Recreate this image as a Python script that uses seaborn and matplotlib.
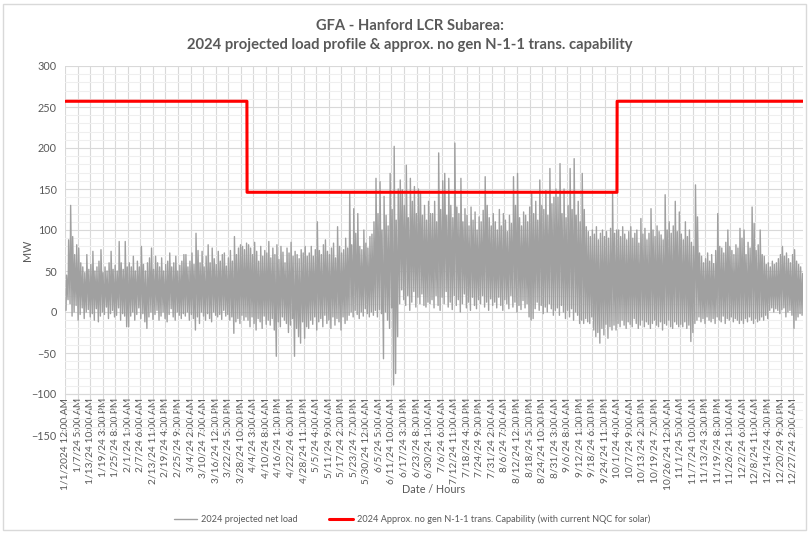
import numpy as np
import pandas as pd
import matplotlib
matplotlib.use('Agg')
from matplotlib import pyplot as plt
from matplotlib.patches import Rectangle
from matplotlib.ticker import MultipleLocator, FixedLocator
import seaborn as sns

# daily peak / trough of the projected net load (MW), one row per month
daily_high = [
    45, 88, 130, 92, 70, 82, 78, 60, 55, 48, 70, 52, 58, 74, 50, 55, 62, 76, 48, 55, 50, 60, 74, 52, 57, 50, 86, 60, 52, 86, 55,
    60, 55, 68, 50, 62, 55, 80, 58, 50, 60, 66, 78, 52, 68, 60, 55, 66, 50, 58, 62, 72, 55, 60, 68, 50, 57, 62, 70,
    70, 55, 62, 72, 58, 96, 75, 60, 74, 55, 68, 82, 60, 78, 65, 58, 74, 62, 70, 72, 56, 66, 75, 62, 92, 70, 78, 82, 80, 76, 84,
    82, 78, 70, 85, 74, 62, 80, 68, 75, 72, 86, 66, 78, 70, 82, 64, 80, 73, 60, 78, 72, 85, 68, 74, 70, 65, 76, 72, 80, 68,
    72, 80, 68, 76, 110, 75, 70, 82, 88, 74, 70, 78, 84, 66, 104, 80, 72, 76, 90, 78, 145, 82, 126, 96, 120, 80, 76, 100, 84, 78, 92,
    95, 110, 163, 120, 159, 100, 141, 118, 105, 169, 125, 202, 112, 150, 161, 149, 130, 179, 115, 163, 135, 153, 120, 150, 147, 118, 130, 112, 135, 120,
    120, 135, 110, 194, 125, 160, 169, 118, 163, 130, 115, 206, 128, 120, 163, 110, 126, 118, 105, 128, 112, 122, 100, 116, 110, 124, 165, 130, 115, 105, 120,
    110, 100, 125, 105, 120, 112, 98, 118, 108, 165, 130, 169, 115, 105, 122, 118, 110, 128, 145, 120, 135, 112, 161, 130, 125, 148, 118, 175, 132, 140, 150,
    140, 181, 120, 150, 115, 130, 175, 125, 187, 118, 135, 110, 169, 125, 104, 98, 92, 100, 95, 104, 88, 96, 100, 92, 98, 90, 102, 145, 96, 100,
    100, 92, 104, 95, 88, 98, 104, 90, 96, 100, 84, 114, 95, 102, 88, 96, 126, 100, 92, 105, 98, 94, 88, 143, 100, 110, 96, 105, 135, 98, 122,
    95, 88, 110, 92, 100, 85, 80, 155, 116, 72, 68, 60, 65, 72, 62, 70, 59, 75, 120, 80, 78, 72, 85, 100, 80, 75, 70, 82, 78, 102,
    90, 100, 70, 85, 78, 128, 108, 75, 82, 100, 70, 68, 58, 60, 55, 62, 58, 60, 65, 70, 80, 68, 72, 65, 60, 70, 76, 62, 58, 55, 47,
]
daily_low = [
    2, 15, 10, -5, 0, 8, -10, -3, 5, -8, 0, 3, -6, -2, -10, 4, -12, -5, 0, -3, 6, -8, -2, 2, -6, -4, 5, -10, -2, -5, -18,
    -18, -5, 0, -10, -3, 5, -8, -2, -12, -20, -6, 0, -9, -3, 2, -10, -5, 0, -8, -12, -3, 4, -6, -10, 0, -4, -8, -2,
    -5, 0, -10, -3, -8, -22, -6, -14, 0, -5, -10, -2, -8, -12, 0, -4, -6, -3, -9, 2, -5, -3, -10, -6, -26, -12, -8, -14, -4, -10, -6,
    -10, -18, -6, -14, -22, -8, -12, -20, -5, -15, -10, -16, -8, -22, -54, -12, -18, -6, -10, -14, -25, -16, -8, -54, -20, -30, -38, -12, -32, -18,
    -20, -10, -15, -6, -22, -12, -8, -18, -4, -14, -10, -20, -6, -16, -8, -12, -22, -6, -14, -10, -4, 0, -6, 2, -3, -8, 0, -5, 4, -2, -6,
    0, -4, 2, -6, 3, -2, -57, 0, -10, -20, 5, -89, -75, -30, 10, 27, 15, 8, 20, 2, 12, 25, 6, 18, 10, 22, 8, 6, 12, 10,
    15, 5, 20, 8, 2, 18, 10, 25, 6, 12, 3, 20, 8, 15, 0, 10, 22, 5, 12, 2, 18, 8, 4, 15, 10, 20, 6, 12, 2, 16, 8,
    12, 5, 18, 8, 2, 15, 10, 4, 20, 6, 12, 0, 8, 3, 14, 5, 10, -6, -10, -8, 4, 12, 2, 8, -2, 6, 0, 10, 4, -4, 2,
    5, -4, 8, 0, -8, 2, -6, 4, -10, 0, -4, -14, -10, -14, -8, -12, -14, -6, -22, -30, -25, -38, -20, -28, -15, -32, -18, -22, -16, -22,
    -14, -18, -10, -16, -20, -12, -15, -18, -8, -14, -20, -16, -10, -18, -12, -15, -20, -14, -10, -16, -18, -12, -22, -14, -16, -10, -18, -20, -12, -15, -18,
    -15, -18, -12, -20, -16, -36, -25, -14, -10, -6, -12, -8, -14, -6, -10, -12, -8, -14, -6, -10, -12, -5, -14, -8, -10, -6, -12, -8, -10, -14,
    -10, -14, -8, -12, -6, -10, -14, -8, -12, -10, -6, -10, -4, -8, 2, 5, 0, 4, 2, -2, 3, 5, -6, 0, 2, -4, -20, -10, -6, -2, -4,
]
low_hour, high_hour = 12, 19   # hour of the day where the trough / peak is placed

# N-1-1 capability (MW) by period, period lengths in hours
cap_values = [257, 146, 257]
cap_hours = [2160, 4392, 2208]

tick_step = 149  # hours between category labels

# hourly timestamps of the profile (the source sheet has no Feb 29)
stamps = pd.date_range('2024-01-01 00:00', '2024-12-31 23:00', freq='h')
stamps = stamps[~((stamps.month == 2) & (stamps.day == 29))]
n_hours = len(stamps)

days = np.arange(len(daily_high))
load = pd.DataFrame({
    'hour': np.column_stack([days * 24 + low_hour, days * 24 + high_hour]).ravel(),
    'MW': np.column_stack([daily_low, daily_high]).ravel(),
})
cap = pd.DataFrame({'hour': np.arange(n_hours), 'MW': np.repeat(cap_values, cap_hours)})

def label(t, first=False):
    h = t.hour % 12
    if h == 0: h = 12
    ampm = 'AM' if t.hour < 12 else 'PM'
    yr = str(t.year) if first else t.strftime('%y')
    return '{}/{}/{} {}:{:02d} {}'.format(t.month, t.day, yr, h, t.minute, ampm)

tick_pos = np.arange(0, n_hours, tick_step)
tick_lab = [label(stamps[p], first=(i == 0)) for i, p in enumerate(tick_pos)]

#%% plot
sns.set_style('white')
plt.rcParams['font.family'] = ['Lato', 'DejaVu Sans']
txt = '#595959'

fig = plt.figure(figsize=(8.09, 5.34), dpi=100)
ax = fig.add_axes([65 / 809, 1 - 435 / 534, 738 / 809, 369 / 534])

sns.lineplot(data=load, x='hour', y='MW', ax=ax, color='#A0A0A0', lw=1.0,
             estimator=None, sort=False, label='2024 projected net load')
sns.lineplot(data=cap, x='hour', y='MW', ax=ax, color='#FF0000', lw=2.2,
             estimator=None, label='2024 Approx. no gen N-1-1 trans. Capability (with current NQC for solar)')

# category axis crosses at -100 (set before the tick labels: moving a spine resets the ticks)
for s in ['top', 'right', 'left']:
    ax.spines[s].set_visible(False)
ax.spines['bottom'].set_position(('data', -100))
ax.spines['bottom'].set_color('#D9D9D9')

ax.set_xlim(0, n_hours - 1)
ax.set_ylim(-150, 300)
ax.yaxis.set_major_locator(MultipleLocator(50))
ax.yaxis.set_minor_locator(MultipleLocator(10))
ax.xaxis.set_major_locator(FixedLocator(tick_pos))
ax.set_xticklabels(tick_lab, rotation=90, fontsize=7.3, color=txt)
ax.tick_params(axis='y', which='both', labelsize=7.8, colors=txt, length=0, pad=6)
ax.tick_params(axis='x', length=0, pad=3)
ax.grid(which='major', color='#D9D9D9', lw=0.8)
ax.grid(which='minor', axis='y', color='#EFEFEF', lw=0.8)
ax.set_axisbelow(True)

ax.set_xlabel('Date / Hours', fontsize=7.8, color=txt)
ax.set_ylabel('MW', fontsize=7.8, color=txt)
ax.xaxis.set_label_coords(0.5, -0.134)
ax.yaxis.set_label_coords(-0.043, 0.5)

fig.suptitle('GFA - Hanford LCR Subarea:\n2024 projected load profile & approx. no gen N-1-1 trans. capability',
             fontsize=10.6, fontweight='bold', color=txt, x=410 / 809, y=0.965, linespacing=1.45)

h, l = ax.get_legend_handles_labels()
ax.get_legend().remove()
fig.legend(h, l, loc='center', bbox_to_anchor=(412 / 809, 1 - 519 / 534), ncol=2, frameon=False,
           fontsize=6.6, labelcolor=txt, handlelength=2.6, columnspacing=3.4, handletextpad=0.45)

fig.add_artist(Rectangle((3 / 809, 4 / 534), 803 / 809, 526 / 534, transform=fig.transFigure,
                         fill=False, edgecolor='#D9D9D9', lw=1))

fig.savefig('out.png', dpi=100)
